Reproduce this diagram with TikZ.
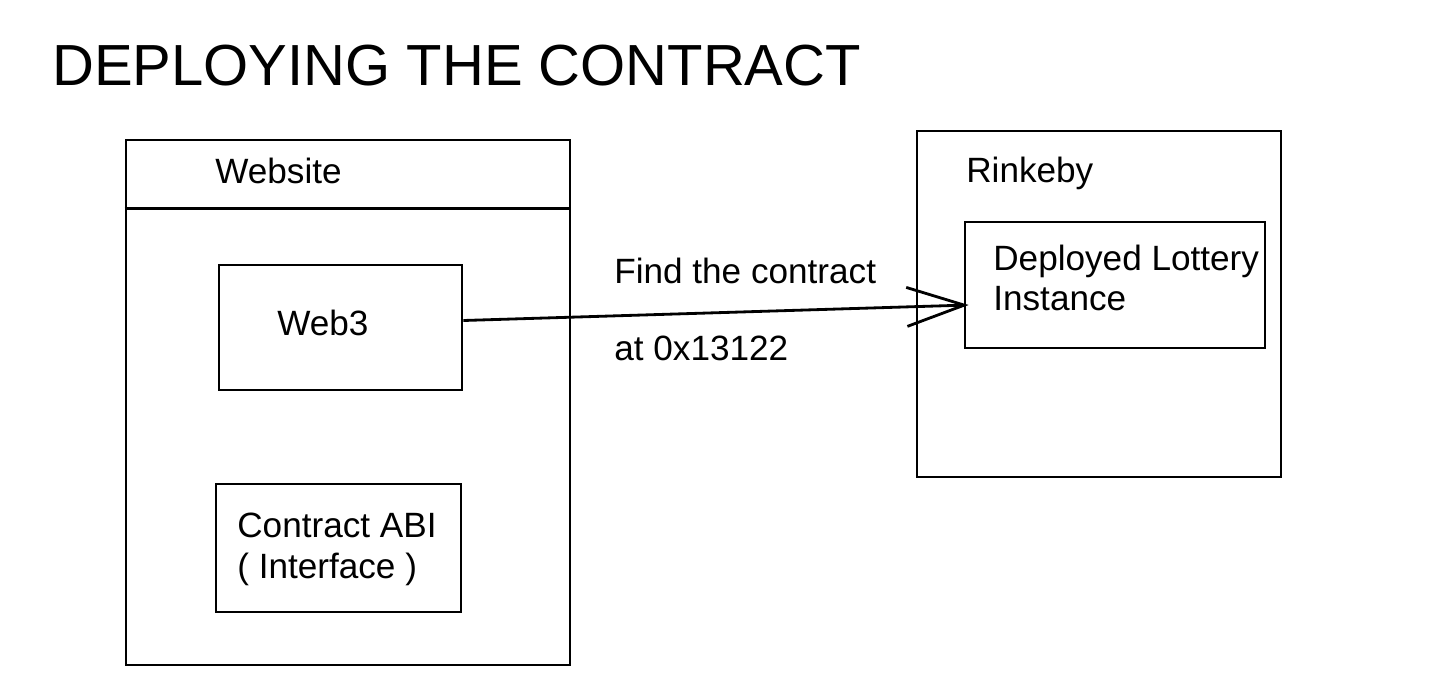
\documentclass[tikz,border=0pt]{standalone}
\usepackage{fontspec}
\setmainfont{Liberation Sans}
\usetikzlibrary{arrows.meta}

\begin{document}
\begin{tikzpicture}[x=0.02cm, y=-0.02cm,
    box/.style={draw, line width=1.6pt, inner sep=0pt},
    txt/.style={anchor=base west, inner sep=0pt, font=\fontsize{20}{24}\selectfont}]
    \useasboundingbox (0,0) rectangle (1430,696);

    \node[anchor=base west, inner sep=0pt, font=\fontsize{33}{36}\selectfont] (title) at (52, 86) {DEPLOYING THE CONTRACT};

    \node[box, minimum width=8.88cm, minimum height=10.5cm] (website) at (348, 402.5) {};
    \draw[line width=1.6pt] ([yshift=-1.4cm]website.north west) -- ([yshift=-1.4cm]website.north east);
    \node[txt] (websitelbl) at (215, 183) {Website};

    \node[box, minimum width=4.86cm, minimum height=2.5cm] (web3) at (340.5, 327.5) {};
    \node[txt] (web3lbl) at (277, 335) {Web3};

    \node[box, minimum width=4.9cm, minimum height=2.56cm] (abi) at (338.5, 548) {};
    \node[txt] (abilbl) at (237, 537) {Contract ABI};
    \node[txt] (ifacelbl) at (237, 578) {( Interface )};

    \node[box, minimum width=7.28cm, minimum height=6.92cm] (rinkeby) at (1099, 304) {};
    \node[txt] (rinkebylbl) at (966, 182) {Rinkeby};

    \node[box, minimum width=6cm, minimum height=2.52cm] (deployed) at (1115, 285) {};
    \node[txt] (deployedlbl) at (993, 270) {Deployed Lottery};
    \node[txt] (instancelbl) at (993, 310) {Instance};

    \draw[line width=1.6pt, -{Straight Barb[length=1.15cm, width=0.78cm, line width=1.6pt]}] ([yshift=0.14cm]web3.east) -- ([xshift=0.1cm, yshift=-0.4cm]deployed.west);
    \node[txt] (findlbl) at (614, 283) {Find the contract};
    \node[txt] (addrlbl) at (614, 360) {at 0x13122};
\end{tikzpicture}
\end{document}
